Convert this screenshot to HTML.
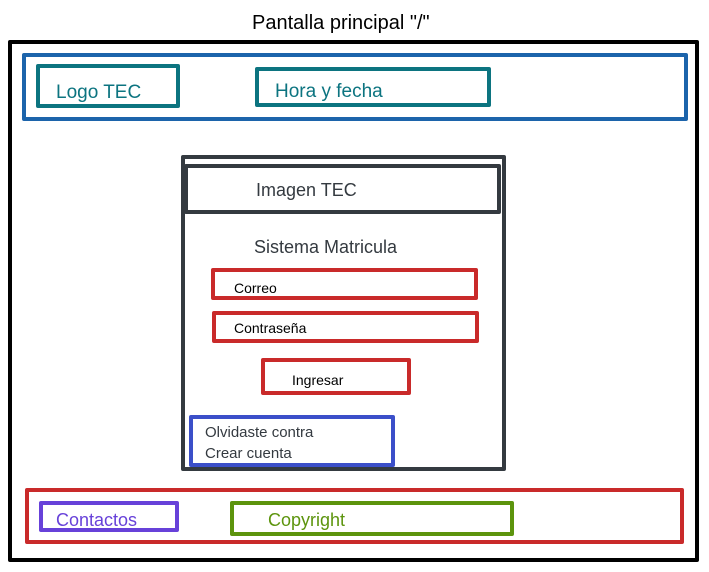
<!DOCTYPE html>
<html><head><meta charset="utf-8"><style>
html,body{margin:0;padding:0;background:#fff;}
svg{display:block;}
text{font-family:"Liberation Sans",sans-serif;}
</style></head><body>
<svg width="709" height="572" viewBox="0 0 709 572" xmlns="http://www.w3.org/2000/svg">
<rect width="709" height="572" fill="#fff"/>
<g fill="none" stroke-linejoin="round" stroke-linecap="round">
<rect x="10" y="42" width="687" height="518" stroke="#000" stroke-width="4"/>
<rect x="24" y="55" width="662" height="64" stroke="#1c64ab" stroke-width="4"/>
<rect x="38" y="66" width="140" height="40" stroke="#0c7480" stroke-width="4"/>
<rect x="257" y="69" width="232" height="36" stroke="#0c7480" stroke-width="4"/>
<rect x="183" y="157" width="321" height="312" stroke="#343a40" stroke-width="4"/>
<rect x="186" y="166" width="313" height="46" stroke="#343a40" stroke-width="4"/>
<rect x="213" y="270" width="263" height="28" stroke="#c92a2a" stroke-width="4"/>
<rect x="214" y="313" width="263" height="28" stroke="#c92a2a" stroke-width="4"/>
<rect x="263" y="360" width="146" height="33" stroke="#c92a2a" stroke-width="4"/>
<rect x="191" y="417" width="202" height="48" stroke="#3b4fc9" stroke-width="4"/>
<rect x="27" y="490" width="655" height="52" stroke="#c92a2a" stroke-width="4"/>
<rect x="41" y="503" width="136" height="27" stroke="#6741d9" stroke-width="4"/>
<rect x="232" y="503" width="280" height="31" stroke="#5c940d" stroke-width="4"/>
</g>
<text x="252" y="29" font-size="20" fill="#000">Pantalla principal "/"</text>
<text x="56" y="98" font-size="19" fill="#0c7480">Logo TEC</text>
<text x="275" y="97" font-size="19" fill="#0c7480">Hora y fecha</text>
<text x="256" y="196" font-size="18" fill="#343a40">Imagen TEC</text>
<text x="254" y="253" font-size="18" fill="#343a40">Sistema Matricula</text>
<text x="234" y="293" font-size="14" fill="#000">Correo</text>
<text x="234" y="333" font-size="14" fill="#000">Contraseña</text>
<text x="292" y="385" font-size="14" fill="#000">Ingresar</text>
<text x="205" y="437" font-size="15" fill="#343a40">Olvidaste contra</text>
<text x="205" y="458" font-size="15" fill="#343a40">Crear cuenta</text>
<text x="56" y="526" font-size="18" fill="#6741d9">Contactos</text>
<text x="268" y="526" font-size="18" fill="#5c940d">Copyright</text>
</svg>
</body></html>
